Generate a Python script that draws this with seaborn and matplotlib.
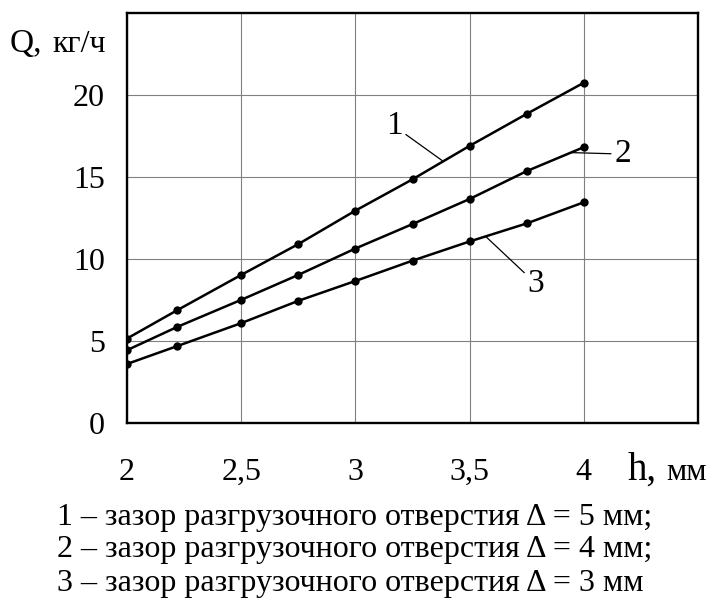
import matplotlib
matplotlib.use("Agg")
import matplotlib.pyplot as plt
import pandas as pd
import seaborn as sns

h = [2, 2.22, 2.5, 2.75, 3, 3.25, 3.5, 3.75, 4]
q1 = [5.15, 6.88, 9.03, 10.91, 12.95, 14.86, 16.9, 18.85, 20.75]
q2 = [4.44, 5.86, 7.51, 9.03, 10.64, 12.13, 13.66, 15.36, 16.82]
q3 = [3.6, 4.69, 6.09, 7.45, 8.66, 9.9, 11.07, 12.17, 13.46]
curve_labels = ["1", "2", "3"]
x_ticks = [2, 2.5, 3, 3.5, 4]
x_tick_labels = ["2", "2,5", "3", "3,5", "4"]
y_ticks = [0, 5, 10, 15, 20]
captions = [
    "1 – зазор разгрузочного отверстия Δ = 5 мм;",
    "2 – зазор разгрузочного отверстия Δ = 4 мм;",
    "3 – зазор разгрузочного отверстия Δ = 3 мм",
]

df = pd.DataFrame({
    "h": h * 3,
    "Q": q1 + q2 + q3,
    "curve": [c for c in curve_labels for _ in h],
})

sns.set_style("white")
plt.rcParams["font.family"] = ["Liberation Serif", "DejaVu Serif"]
plt.rcParams["text.color"] = "black"
plt.rcParams["xtick.color"] = "black"
plt.rcParams["ytick.color"] = "black"

fig = plt.figure(figsize=(7.16, 6.06), dpi=100)
ax = fig.add_axes([0.1774, 0.3020, 0.7975, 0.6765])

sns.lineplot(
    data=df, x="h", y="Q", hue="curve", palette=["black"] * 3,
    marker="o", markersize=6, markeredgewidth=0, linewidth=1.8,
    legend=False, ax=ax,
)

ax.set_xlim(2, 4.5)
ax.set_ylim(0, 25)
ax.set_xticks(x_ticks)
ax.set_xticklabels(x_tick_labels)
ax.set_yticks(y_ticks)
ax.grid(True, color="#808080", linewidth=0.8)
ax.set_axisbelow(True)
for s in ax.spines.values():
    s.set_visible(True)
    s.set_color("black")
    s.set_linewidth(1.7)
ax.tick_params(axis="both", direction="out", length=7, width=1.7, color="black",
               labelsize=23, labelcolor="black")
ax.tick_params(axis="x", pad=18)
ax.tick_params(axis="y", pad=9)
ax.set_xlabel("")
ax.set_ylabel("")

# curve numbers with leader lines
ann = [((3.38, 16.0), (3.17, 18.1)), ((3.94, 16.49), (4.17, 16.4)), ((3.57, 11.38), (3.79, 8.5))]
for lab, (xy, xyt) in zip(curve_labels, ann):
    ax.annotate(lab, xy=xy, xytext=xyt, fontsize=24, ha="center", va="center",
                arrowprops=dict(arrowstyle="-", lw=0.9, color="black", shrinkA=0, shrinkB=0))

fig.text(10 / 716, 1 - 52 / 606, "Q,", fontsize=24, va="baseline", ha="left")
fig.text(52 / 716, 1 - 52 / 606, "кг/ч", fontsize=23, va="baseline", ha="left")
fig.text(628 / 716, 1 - 480 / 606, "h,", fontsize=28, va="baseline", ha="left")
fig.text(666 / 716, 1 - 480 / 606, "мм", fontsize=23, va="baseline", ha="left")

for i, line in enumerate(captions):
    fig.text(57 / 716, 1 - (517 + 33 * i) / 606, line, fontsize=23, va="center", ha="left")

fig.savefig("out.png", dpi=100)
